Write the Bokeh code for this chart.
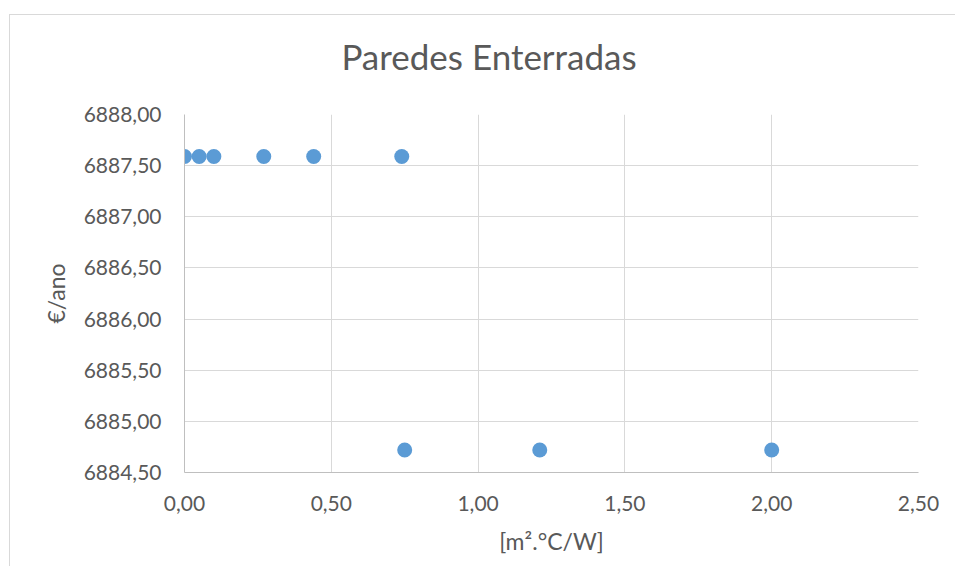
from bokeh.plotting import figure
from bokeh.layouts import column
from bokeh.models import FixedTicker, Div
from bokeh.embed import file_html
from bokeh.resources import INLINE

# Data
resistance = [0.00, 0.05, 0.10, 0.27, 0.44, 0.74, 0.75, 1.21, 2.00]
cost = [6887.59, 6887.59, 6887.59, 6887.59, 6887.59, 6887.59, 6884.72, 6884.72, 6884.72]

x_ticks = [0.0, 0.5, 1.0, 1.5, 2.0, 2.5]
x_tick_labels = ["0,00", "0,50", "1,00", "1,50", "2,00", "2,50"]
y_ticks = [6884.5, 6885.0, 6885.5, 6886.0, 6886.5, 6887.0, 6887.5, 6888.0]
y_tick_labels = ["6884,50", "6885,00", "6885,50", "6886,00", "6886,50", "6887,00", "6887,50", "6888,00"]

title_text = "Paredes Enterradas"
x_label = "[m².°C/W]"
y_label = "€/ano"

FONT = "Lato"
TXT = "#595959"
GRID = "#D9D9D9"
AXIS = "#BFBFBF"
W = 945

# --- chart title ---
title_div = Div(text=title_text, width=W, height=79, margin=(0, 0, 0, 0),
                styles={"font-family": "Lato", "font-size": "35px", "color": TXT,
                        "text-align": "center", "line-height": "83px",
                        "text-indent": "13px", "white-space": "nowrap",
                        "background-color": "white"})

# --- main chart ---
p = figure(width=W, height=472, output_backend="svg", toolbar_location=None,
           x_range=(0, 2.5), y_range=(6884.5, 6888.0),
           min_border_left=174, min_border_right=37,
           min_border_top=20, min_border_bottom=94,
           background_fill_color="white", border_fill_color="white")
p.outline_line_color = None

p.scatter(resistance, cost, size=15, fill_color="#5B9BD5", line_color=None)

p.xaxis.ticker = FixedTicker(ticks=x_ticks)
p.yaxis.ticker = FixedTicker(ticks=y_ticks)
p.xaxis.major_label_overrides = dict(zip(x_ticks, x_tick_labels))
p.yaxis.major_label_overrides = dict(zip(y_ticks, y_tick_labels))

for ax in (p.xaxis, p.yaxis):
    ax.major_tick_line_color = None
    ax.minor_tick_line_color = None
    ax.major_tick_out = 0
    ax.major_tick_in = 0
    ax.axis_line_color = AXIS
    ax.major_label_text_font = FONT
    ax.major_label_text_font_size = "21px"
    ax.major_label_text_color = TXT
    ax.axis_label_text_font = FONT
    ax.axis_label_text_font_size = "23px"
    ax.axis_label_text_font_style = "normal"
    ax.axis_label_text_color = TXT

p.xaxis.axis_label = x_label
p.yaxis.axis_label = y_label
p.xaxis.major_label_standoff = 23
p.yaxis.major_label_standoff = 23
p.xaxis.axis_label_standoff = 13
p.yaxis.axis_label_standoff = 11

p.xgrid.grid_line_color = GRID
p.ygrid.grid_line_color = GRID
p.xgrid.ticker = FixedTicker(ticks=x_ticks)
p.ygrid.ticker = FixedTicker(ticks=y_ticks)

layout = column(title_div, p, spacing=0)
layout.styles = {"border-left": "1px solid #D9D9D9", "border-top": "1px solid #D9D9D9",
                 "border-right": "none", "border-bottom": "none",
                 "margin-top": "14px", "margin-left": "9px"}

open("out.html", "w").write(file_html(layout, INLINE))
